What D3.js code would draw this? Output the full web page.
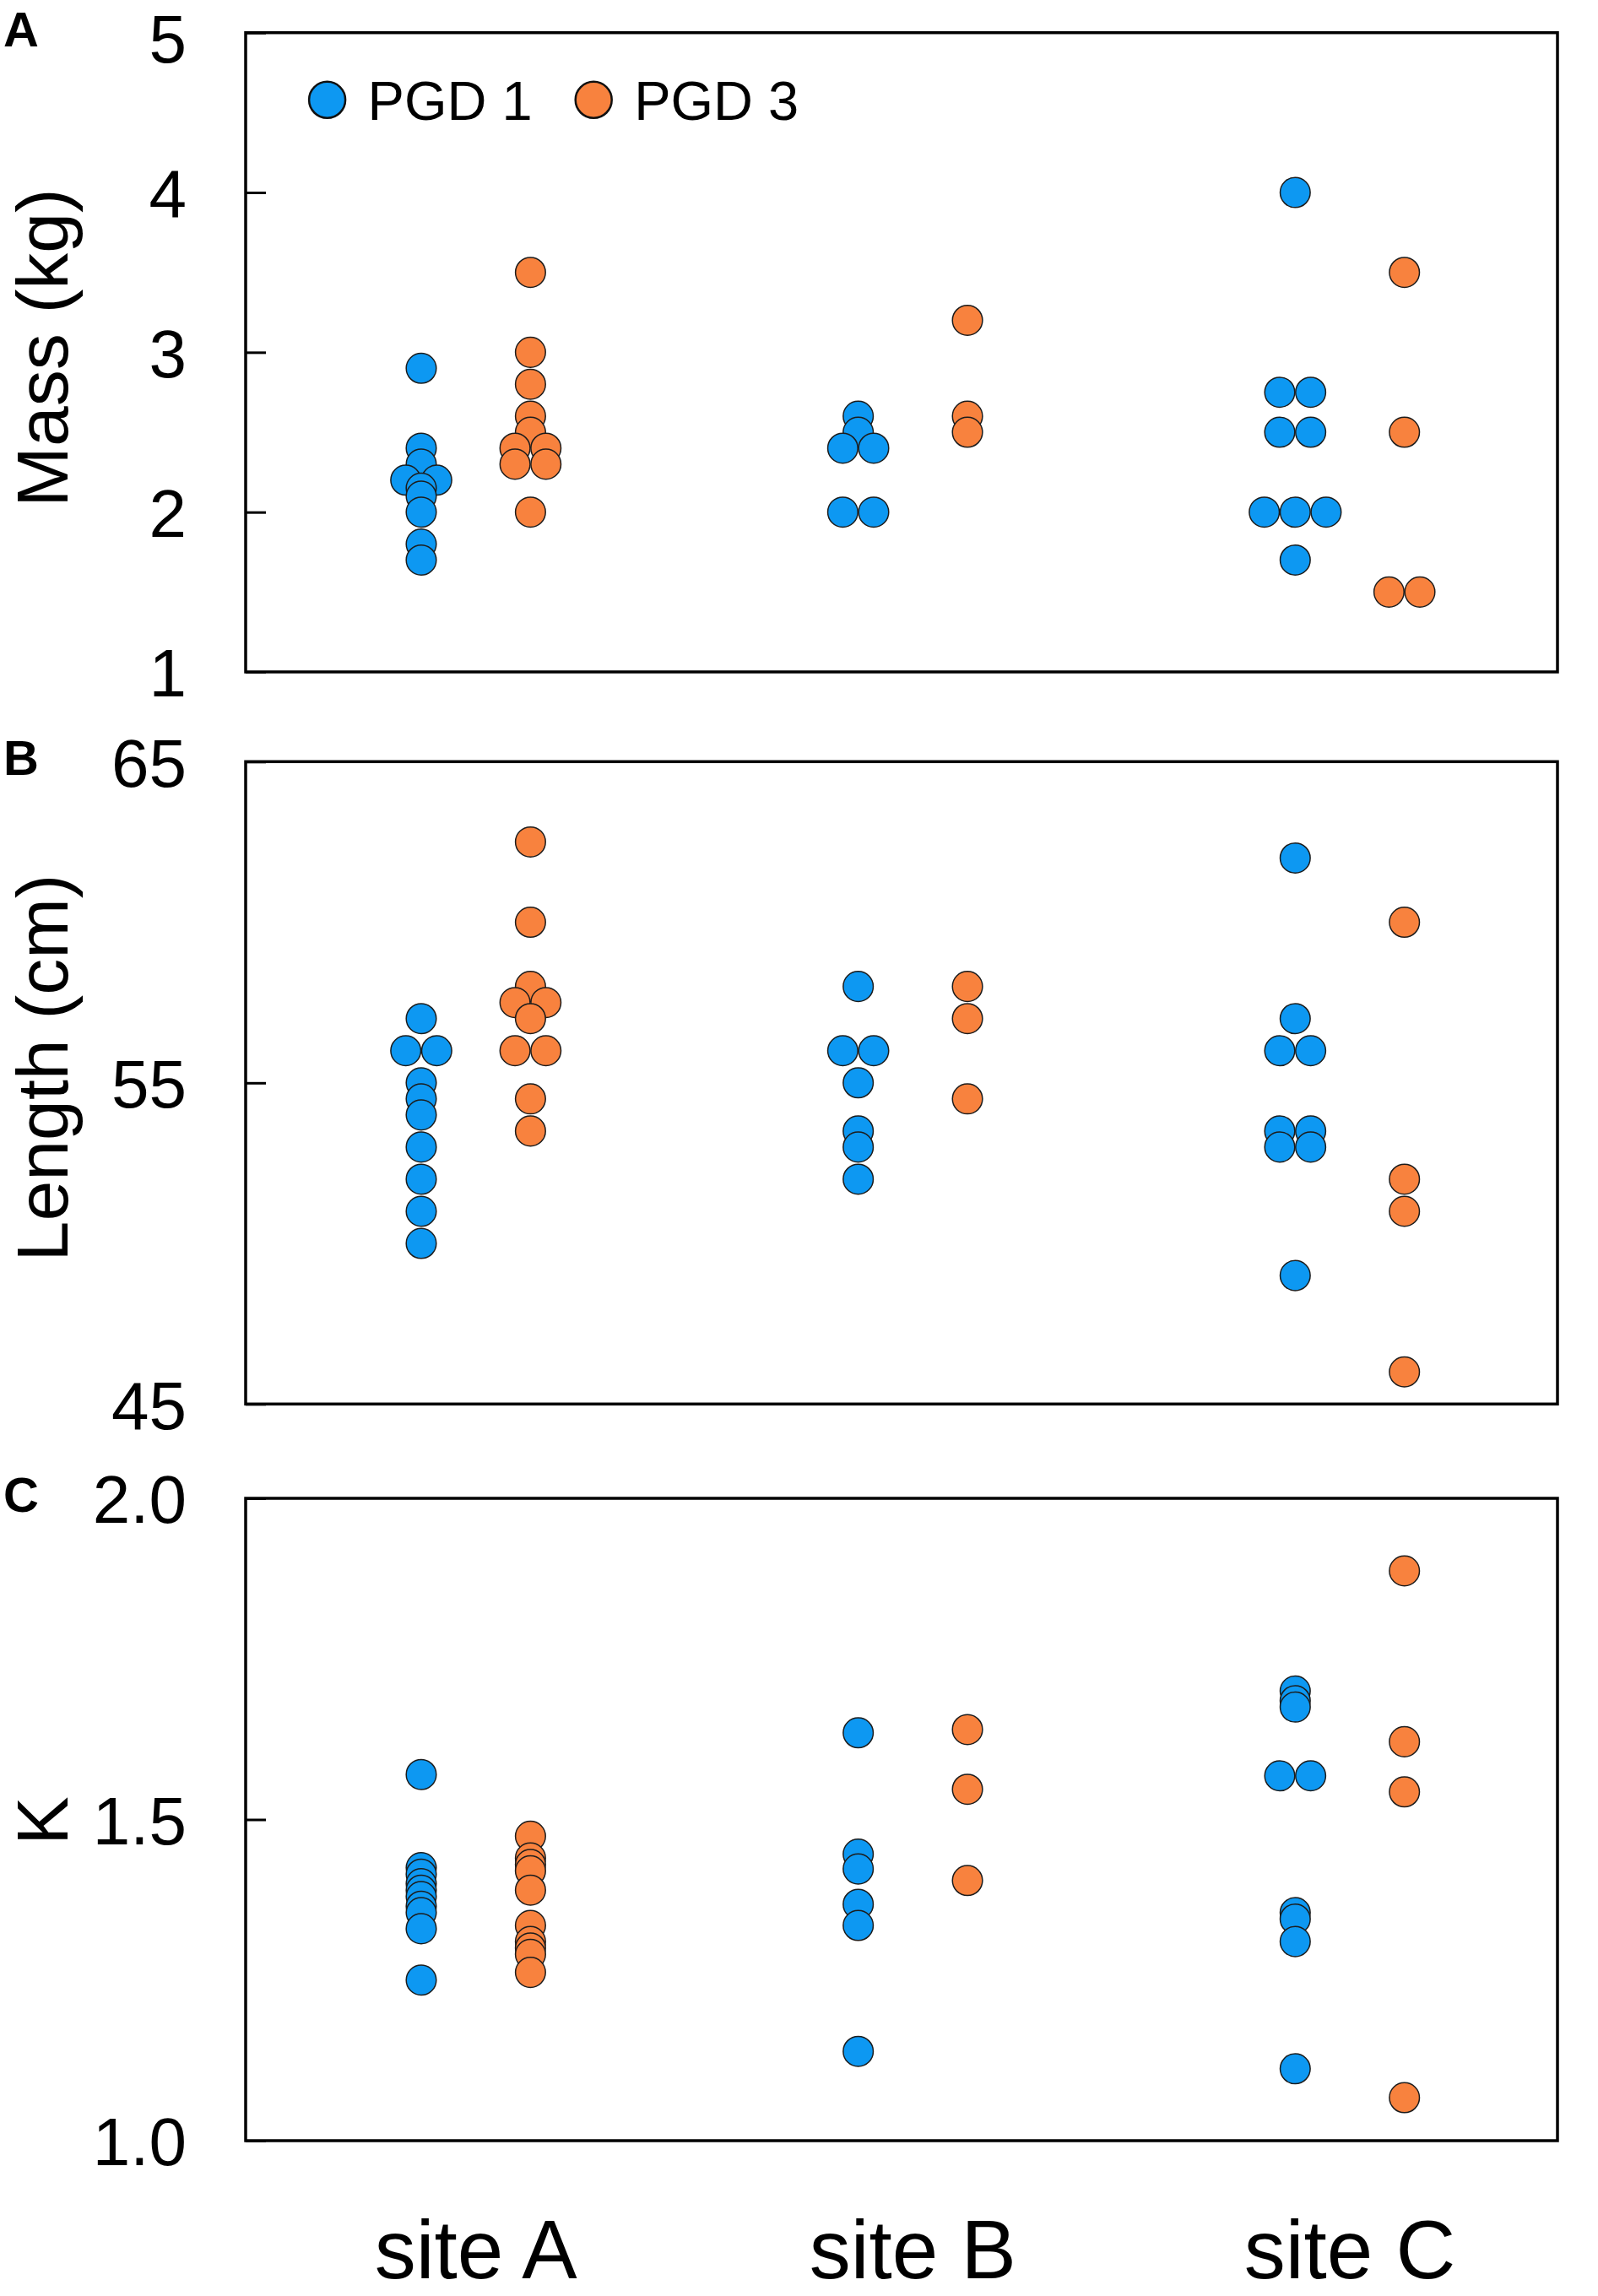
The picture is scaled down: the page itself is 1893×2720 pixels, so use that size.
<!DOCTYPE html>
<html>
<head>
<meta charset="utf-8">
<script src="https://cdn.jsdelivr.net/npm/d3@7/dist/d3.min.js"></script>
<style>
  html, body { margin: 0; padding: 0; background: #fff; }
  svg { display: block; }
  text { font-family: "Liberation Sans", Arial, sans-serif; fill: #000; }
</style>
</head>
<body>
<svg id="chart" width="1893" height="2720"></svg>
<script>
// ---------------- DATA ----------------
const sites = ["site A", "site B", "site C"];
const groups = ["PGD 1", "PGD 3"];

// Panel A: Mass (kg) — one array per site
const massPGD1 = [
  [2.9, 2.4, 2.3, 2.2, 2.2, 2.15, 2.1, 2.0, 1.8, 1.7],
  [2.6, 2.5, 2.4, 2.4, 2.0, 2.0],
  [4.0, 2.75, 2.75, 2.5, 2.5, 2.0, 2.0, 2.0, 1.7]
];
const massPGD3 = [
  [3.5, 3.0, 2.8, 2.6, 2.5, 2.4, 2.4, 2.3, 2.3, 2.0],
  [3.2, 2.6, 2.5],
  [3.5, 2.5, 1.5, 1.5]
];

// Panel B: Length (cm)
const lengthPGD1 = [
  [57, 56, 56, 55, 54.5, 54, 53, 52, 51, 50],
  [58, 56, 56, 55, 53.5, 53, 52],
  [62, 57, 56, 56, 53.5, 53.5, 53, 53, 49]
];
const lengthPGD3 = [
  [62.5, 60, 58, 57.5, 57.5, 57, 56, 56, 54.5, 53.5],
  [58, 57, 54.5],
  [60, 52, 51, 46]
];

// Panel C: K (condition factor)
const kPGD1 = [
  [1.57, 1.425, 1.415, 1.40, 1.39, 1.38, 1.365, 1.355, 1.33, 1.25],
  [1.635, 1.446, 1.423, 1.368, 1.335, 1.139],
  [1.70, 1.685, 1.675, 1.568, 1.568, 1.355, 1.345, 1.31, 1.112]
];
const kPGD3 = [
  [1.474, 1.44, 1.43, 1.42, 1.39, 1.335, 1.31, 1.30, 1.29, 1.262],
  [1.64, 1.547, 1.405],
  [1.887, 1.621, 1.543, 1.067]
];

// Axis ticks
const massTicks = [1, 2, 3, 4, 5];
const lengthTicks = [45, 55, 65];
const kTicks = [1.0, 1.5, 2.0];

const panelLetters = ["A", "B", "C"];
const axisTitles = ["Mass (kg)", "Length (cm)", "K"];

// ---------------- LAYOUT ----------------
const left = 291, right = 1845;
const panels = [
  { letter: panelLetters[0], title: axisTitles[0], domain: [1, 5], top: 38.7, bottom: 796, ticks: massTicks, fmt: d3.format("d"),
    data: [massPGD1, massPGD3], titleY: 412 },
  { letter: panelLetters[1], title: axisTitles[1], domain: [45, 65], top: 902.3, bottom: 1663.3, ticks: lengthTicks, fmt: d3.format("d"),
    data: [lengthPGD1, lengthPGD3], titleY: 1265 },
  { letter: panelLetters[2], title: axisTitles[2], domain: [1, 2], top: 1775, bottom: 2536, ticks: kTicks, fmt: d3.format(".1f"),
    data: [kPGD1, kPGD3], titleY: 2157 }
];

const colors = d3.scaleOrdinal(groups, ["#0d98f2", "#f8823e"]);
const R = 17.8;
const spacing = 36.6;
const tickFont = 80;

const svg = d3.select("#chart");

const xSite = d3.scalePoint(sites, [563.7, 1599]);
const xGroup = d3.scalePoint(groups, [-64.7, 64.7]);

panels.forEach((p) => {
  const y = d3.scaleLinear().domain(p.domain).range([p.bottom, p.top]);
  const g = svg.append("g");

  // build points with a simple dodge for identical values
  const pts = [];
  p.data.forEach((seriesBySite, gi) => {
    seriesBySite.forEach((vals, si) => {
      const byVal = d3.group(vals, v => v);
      byVal.forEach(arr => {
        const n = arr.length;
        arr.forEach((v, j) => {
          pts.push({
            group: groups[gi],
            site: sites[si],
            value: v,
            dx: (j - (n - 1) / 2) * spacing
          });
        });
      });
    });
  });

  // ticks (inward) on left axis
  const axis = d3.axisLeft(y).tickValues(p.ticks).tickSize(-24).tickFormat(p.fmt).tickPadding(0);
  const ax = g.append("g").attr("transform", `translate(${left},0)`).call(axis);
  ax.select(".domain").remove();
  ax.selectAll(".tick line").attr("stroke", "#000").attr("stroke-width", 3);
  ax.selectAll(".tick text")
    .attr("x", 221 - left)
    // keep the label box inside the page (only the topmost label is affected)
    .attr("dy", d => {
      const base = y(d) + 0.36 * tickFont;
      const minBase = 0.92 * tickFont;
      return (Math.max(base, minBase) - y(d)) + "px";
    })
    .attr("text-anchor", "end")
    .style("font-size", tickFont + "px")
    .style("font-family", "'Liberation Sans', Arial, sans-serif")
    .attr("fill", "#000");

  // points
  g.append("g").selectAll("circle").data(pts).join("circle")
    .attr("cx", d => xSite(d.site) + xGroup(d.group) + d.dx)
    .attr("cy", d => y(d.value))
    .attr("r", R)
    .attr("fill", d => colors(d.group))
    .attr("stroke", "#1c1c1c")
    .attr("stroke-width", 1.5);

  // frame
  g.append("rect")
    .attr("x", left).attr("y", p.top)
    .attr("width", right - left).attr("height", p.bottom - p.top)
    .attr("fill", "none").attr("stroke", "#000").attr("stroke-width", 3.5);

  // panel letter
  g.append("text")
    .attr("x", 4).attr("y", p.top + 16)
    .style("font-size", "58px").style("font-weight", "bold")
    .text(p.letter);

  // axis title
  g.append("text")
    .attr("transform", `translate(80,${p.titleY}) rotate(-90)`)
    .attr("text-anchor", "middle")
    .style("font-size", "86px")
    .text(p.title);
});

// x category labels
svg.append("g").selectAll("text").data(sites).join("text")
  .attr("x", d => xSite(d))
  .attr("y", 2699)
  .attr("text-anchor", "middle")
  .style("font-size", "98px")
  .text(d => d);

// legend
const legendX = d3.scalePoint(groups, [387.6, 703.2]);
const leg = svg.append("g");
leg.selectAll("circle").data(groups).join("circle")
  .attr("cx", d => legendX(d)).attr("cy", 118.3).attr("r", 21.5)
  .attr("fill", d => colors(d)).attr("stroke", "#111").attr("stroke-width", 2.5);
leg.selectAll("text").data(groups).join("text")
  .attr("x", d => legendX(d) + 48).attr("y", 141.5)
  .style("font-size", "65px")
  .text(d => d);
</script>
</body>
</html>
